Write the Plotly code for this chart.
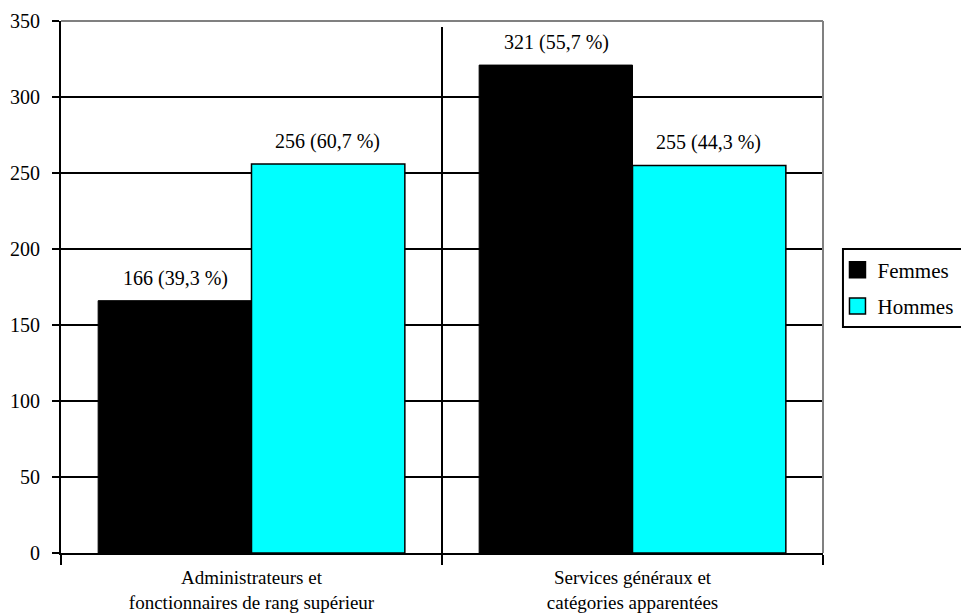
import plotly.graph_objects as go

categories = ["Administrateurs et<br>fonctionnaires de rang supérieur",
              "Services généraux et<br>catégories apparentées"]
femmes = [166, 321]
hommes = [256, 255]
y_ticks = [0, 50, 100, 150, 200, 250, 300, 350]

FONT = "Liberation Serif"
CYAN = "#00FFFF"


def pct_label(value, total):
    pct = f"{100 * value / total:.1f}".replace(".", ",")
    return f"{value} ({pct} %)"


totals = [f + h for f, h in zip(femmes, hommes)]

fig = go.Figure()
fig.add_trace(go.Bar(name="Femmes", x=categories, y=femmes, showlegend=False,
                     marker=dict(color="#000000", line=dict(color="#000000", width=1))))
fig.add_trace(go.Bar(name="Hommes", x=categories, y=hommes, showlegend=False,
                     marker=dict(color=CYAN, line=dict(color="#000000", width=1.5))))

# legend keys with larger square swatches
for name, color, grp in [("Femmes", "#000000", "f"), ("Hommes", CYAN, "h")]:
    fig.add_trace(go.Scatter(name=name, x=[None], y=[None], mode="markers",
                             legendgroup=grp,
                             marker=dict(symbol="square", size=16, color=color,
                                         line=dict(color="#000000", width=1.5))))

# value labels above each bar
for i, cat in enumerate(categories):
    for j, vals in enumerate([femmes, hommes]):
        fig.add_annotation(x=i + (-0.2 if j == 0 else 0.2), y=vals[i], xref="x", yref="y",
                           text=pct_label(vals[i], totals[i]), showarrow=False,
                           yanchor="bottom", yshift=9,
                           font=dict(family=FONT, size=20, color="#000000"))

# category separator
fig.add_shape(type="line", xref="x", yref="y", x0=0.5, x1=0.5, y0=0, y1=346,
              line=dict(color="#000000", width=2), layer="below")
# top and right frame of the plot area
fig.add_shape(type="line", xref="paper", yref="paper", x0=0, x1=1, y0=1, y1=1,
              line=dict(color="#808080", width=2))
fig.add_shape(type="line", xref="paper", yref="paper", x0=1, x1=1, y0=0, y1=1,
              line=dict(color="#808080", width=2))
# legend frame
fig.add_shape(type="rect", xref="paper", yref="paper", x0=1.0262, x1=1.35,
              y0=0.4248, y1=0.5714, line=dict(color="#000000", width=2),
              fillcolor="rgba(0,0,0,0)")

fig.update_layout(
    width=961, height=613,
    margin=dict(l=61, r=138, t=21, b=60, autoexpand=False),
    paper_bgcolor="white", plot_bgcolor="white",
    barmode="group", bargap=0.195, bargroupgap=0,
    font=dict(family=FONT, color="#000000"),
    showlegend=True,
    legend=dict(x=1.019, y=0.498, xanchor="left", yanchor="middle",
                borderwidth=0, bgcolor="rgba(0,0,0,0)",
                font=dict(family=FONT, size=21, color="#000000"),
                tracegroupgap=6, itemwidth=30),
    xaxis=dict(type="category", tickson="boundaries", ticks="outside", ticklen=10,
               tickwidth=2, tickcolor="#000000", showline=True, linecolor="#000000",
               linewidth=2, showgrid=False, range=[-0.5, 1.5], ticklabelstandoff=6,
               tickfont=dict(family=FONT, size=19, color="#000000")),
    yaxis=dict(range=[0, 350], tickvals=y_ticks, ticks="outside", ticklen=7,
               tickwidth=2, tickcolor="#000000", showline=True, linecolor="#000000",
               linewidth=2, showgrid=True, gridcolor="#000000", gridwidth=2,
               zeroline=False, ticklabelstandoff=8,
               tickfont=dict(family=FONT, size=20, color="#000000")),
)

fig.write_html("out.html")
